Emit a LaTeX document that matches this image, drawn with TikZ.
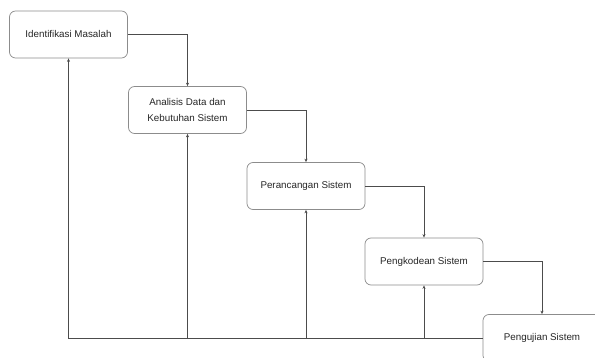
\documentclass[tikz,border=0pt]{standalone}
\usepackage{fontspec}
\setmainfont{Liberation Sans}
\usetikzlibrary{arrows.meta}
\begin{document}
\begin{tikzpicture}[x=1pt,y=-1pt,
  stepbox/.style={draw=black!45, line width=0.7pt, rounded corners=6pt, fill=white,
    minimum width=118pt, minimum height=47pt, align=center, font=\fontsize{9.8}{15.5}\selectfont, text=black!85},
  flow/.style={draw=black!70, line width=0.7pt, -{Stealth[length=3.5pt,width=3pt]}}]
\useasboundingbox (0,0) rectangle (595,358);
\node[stepbox] (b1) at (68.5,34.5) {Identifikasi Masalah};
\node[stepbox] (b2) at (187.5,110) {Analisis Data dan\\Kebutuhan Sistem};
\node[stepbox] (b3) at (306,186) {Perancangan Sistem};
\node[stepbox] (b4) at (424,261.5) {Pengkodean Sistem};
\node[stepbox] (b5) at (542,338) {Pengujian Sistem};
% forward
\draw[flow] (b1.east) -| (b2.north);
\draw[flow] (b2.east) -| (b3.north);
\draw[flow] (b3.east) -| (b4.north);
\draw[flow] (b4.east) -| (b5.north);
% feedback
\coordinate (base) at (b5.west);
\draw[flow] (base) -| (b1.south);
\draw[flow] (b2.south |- base) -- (b2.south);
\draw[flow] (b3.south |- base) -- (b3.south);
\draw[flow] (b4.south |- base) -- (b4.south);
\end{tikzpicture}
\end{document}
